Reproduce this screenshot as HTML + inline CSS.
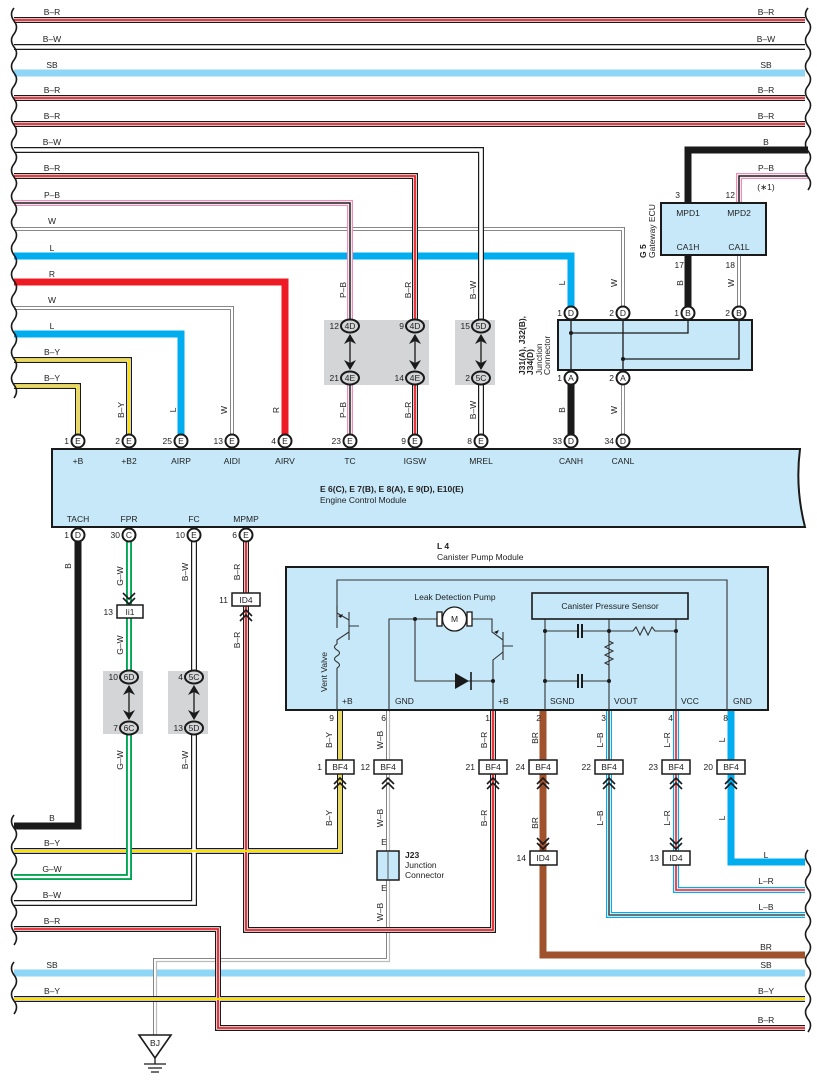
<!DOCTYPE html>
<html><head><meta charset="utf-8"><style>
html,body{margin:0;padding:0;background:#fff}
svg{display:block}
text{font-family:"Liberation Sans",sans-serif;font-size:8.5px;fill:#222}
.b{font-weight:bold}
</style></head><body>
<svg width="817" height="1087" viewBox="0 0 817 1087" xmlns="http://www.w3.org/2000/svg">
<defs>
<path id="w1" d="M14,20H805"/>
<path id="w2" d="M14,47H805"/>
<path id="w3" d="M14,73H805"/>
<path id="w4" d="M14,98H805"/>
<path id="w5" d="M14,124H805"/>
<path id="w6" d="M14,150H481V441"/>
<path id="w7" d="M14,176H415V441"/>
<path id="w8" d="M14,203H350V441"/>
<path id="w9" d="M14,229H623V441"/>
<path id="w10" d="M14,256H571V313"/>
<path id="w11" d="M14,282H285V441"/>
<path id="w12" d="M14,308H232V441"/>
<path id="w13" d="M14,334H181V441"/>
<path id="w14" d="M14,360H129V441"/>
<path id="w15" d="M14,386H78V441"/>
<path id="w16" d="M571,378V441"/>
<path id="w18" d="M808,150H688V313"/>
<path id="w19" d="M808,176H739V203"/>
<path id="w20" d="M739,255V313"/>
<path id="b1" d="M78,535V826H14"/>
<path id="b2" d="M129,535V877H14"/>
<path id="b3" d="M194,535V903H14"/>
<path id="b4" d="M246,535V930H493V710"/>
<path id="b5" d="M14,929H218V1028H805"/>
<path id="b6" d="M14,851H340V710"/>
<path id="b7" d="M388,710V960H155V1035"/>
<path id="b8" d="M14,973H805"/>
<path id="b9" d="M14,999H805"/>
<path id="b10" d="M543,710V955H805"/>
<path id="b11" d="M609,710V915H805"/>
<path id="b12" d="M676,710V890H805"/>
<path id="b13" d="M731,710V862H805"/>
</defs>

<g fill="none" stroke-linejoin="miter">
<g stroke="#8fd6f6" stroke-width="7"><use href="#w3"/><use href="#b8"/></g>
<g stroke="#00aeef" stroke-width="7"><use href="#w10"/><use href="#w13"/><use href="#b13"/></g>
<use href="#w11" stroke="#ed1c24" stroke-width="7"/>
<g stroke="#1a1a1a" stroke-width="7"><use href="#w16"/><use href="#w18"/><use href="#b1"/></g>
<use href="#b10" stroke="#a0522d" stroke-width="7"/>
<g stroke="#777" stroke-width="4"><use href="#w9"/><use href="#w12"/><use href="#w20"/><use href="#b7"/><path d="M623,378V441"/></g>
<g stroke="#fff" stroke-width="2.2"><use href="#w9"/><use href="#w12"/><use href="#w20"/><use href="#b7"/><path d="M623,378V441"/></g>
<g stroke="#bbb" stroke-width="1.2"><use href="#b7" transform="translate(1.5,1.5)"/></g>
<g stroke="#1a1a1a" stroke-width="6"><use href="#w1"/><use href="#w2"/><use href="#w4"/><use href="#w5"/><use href="#w6"/><use href="#w7"/><use href="#w14"/><use href="#w15"/><use href="#b3"/><use href="#b4"/><use href="#b5"/><use href="#b6"/><use href="#b9"/></g>
<g stroke="#fff" stroke-width="3.6"><use href="#w1"/><use href="#w2"/><use href="#w4"/><use href="#w5"/><use href="#w6"/><use href="#w7"/><use href="#w14"/><use href="#w15"/><use href="#b3"/><use href="#b4"/><use href="#b5"/><use href="#b6"/><use href="#b9"/></g>
<g stroke="#ed1c24" stroke-width="1.8"><use href="#w1"/><use href="#w4"/><use href="#w5"/><use href="#w7"/><use href="#b4"/><use href="#b5"/></g>
<g stroke="#ffe000" stroke-width="2"><use href="#w14"/><use href="#w15"/><use href="#b6"/><use href="#b9"/></g>
<g stroke="#f08cb8" stroke-width="6"><use href="#w8"/><use href="#w19"/></g>
<g stroke="#fff" stroke-width="3.5"><use href="#w8"/><use href="#w19"/></g>
<g stroke="#1a1a1a" stroke-width="1.5"><use href="#w8"/><use href="#w19"/></g>
<use href="#b2" stroke="#00a651" stroke-width="6"/>
<use href="#b2" stroke="#fff" stroke-width="2.2"/>
<g stroke="#00aeef" stroke-width="6"><use href="#b11"/><use href="#b12"/></g>
<g stroke="#fff" stroke-width="3.6"><use href="#b11"/><use href="#b12"/></g>
<use href="#b11" stroke="#444" stroke-width="1.6"/>
<use href="#b12" stroke="#ed1c24" stroke-width="1.6"/>
</g>

<g fill="none" stroke="#1a1a1a" stroke-width="1.6">
<path d="M14,8 q-5,6 0,13 q5,6 0,13 q-5,6 0,13 q5,6 0,13 q-5,6 0,13 q5,6 0,13 q-5,6 0,13 q5,6 0,13 q-5,6 0,13 q5,6 0,13 q-5,6 0,13 q5,6 0,13 q-5,6 0,13 q5,6 0,13 q-5,6 0,13 q5,6 0,13 q-5,6 0,13 q5,6 0,13 q-5,6 0,13 q5,6 0,13 q-5,6 0,13 q5,6 0,13 q-5,6 0,13 q5,6 0,13 q-5,6 0,13 q5,6 0,13 q-5,6 0,13 q5,6 0,13 q-5,6 0,13 q5,6 0,13"/>
<path d="M808,8 q-5,6 0,13 q5,6 0,13 q-5,6 0,13 q5,6 0,13 q-5,6 0,13 q5,6 0,13 q-5,6 0,13 q5,6 0,13 q-5,6 0,13 q5,6 0,13"/>
<path d="M808,138 q-5,6 0,13 q5,6 0,13 q-5,6 0,13 q5,6 0,13"/>
<path d="M14,815 q-5,6 0,13 q5,6 0,13 q-5,6 0,13 q5,6 0,13 q-5,6 0,13 q5,6 0,13 q-5,6 0,13 q5,6 0,13 q-5,6 0,13 q5,6 0,13"/>
<path d="M14,962 q-5,6 0,13 q5,6 0,13 q-5,6 0,13 q5,6 0,13"/>
<path d="M808,850 q-5,6 0,13 q5,6 0,13 q-5,6 0,13 q5,6 0,13 q-5,6 0,13 q5,6 0,13 q-5,6 0,13 q5,6 0,13 q-5,6 0,13 q5,6 0,13 q-5,6 0,13 q5,6 0,13 q-5,6 0,13 q5,6 0,13"/>
</g>

<g text-anchor="middle">
<text x="52" y="15">B–R</text><text x="52" y="42">B–W</text><text x="52" y="68">SB</text>
<text x="52" y="93">B–R</text><text x="52" y="119">B–R</text><text x="52" y="145">B–W</text>
<text x="52" y="171">B–R</text><text x="52" y="198">P–B</text><text x="52" y="224">W</text>
<text x="52" y="251">L</text><text x="52" y="277">R</text><text x="52" y="303">W</text>
<text x="52" y="329">L</text><text x="52" y="355">B–Y</text><text x="52" y="381">B–Y</text>
<text x="766" y="15">B–R</text><text x="766" y="42">B–W</text><text x="766" y="68">SB</text>
<text x="766" y="93">B–R</text><text x="766" y="119">B–R</text>
<text x="766" y="145">B</text><text x="766" y="171">P–B</text><text x="766" y="190">(∗1)</text>
<text x="52" y="821">B</text><text x="52" y="846">B–Y</text><text x="52" y="872">G–W</text>
<text x="52" y="898">B–W</text><text x="52" y="924">B–R</text>
<text x="52" y="968">SB</text><text x="52" y="994">B–Y</text>
<text x="766" y="858">L</text><text x="766" y="884">L–R</text><text x="766" y="910">L–B</text>
<text x="766" y="950">BR</text><text x="766" y="968">SB</text><text x="766" y="994">B–Y</text><text x="766" y="1023">B–R</text>
</g>

<g text-anchor="middle">
<text transform="translate(346,290) rotate(-90)">P–B</text><text transform="translate(346,410) rotate(-90)">P–B</text>
<text transform="translate(411,290) rotate(-90)">B–R</text><text transform="translate(411,410) rotate(-90)">B–R</text>
<text transform="translate(476,290) rotate(-90)">B–W</text><text transform="translate(476,410) rotate(-90)">B–W</text>
<text transform="translate(565,283) rotate(-90)">L</text><text transform="translate(617,283) rotate(-90)">W</text>
<text transform="translate(683,283) rotate(-90)">B</text><text transform="translate(734,283) rotate(-90)">W</text>
<text transform="translate(565,410) rotate(-90)">B</text><text transform="translate(617,410) rotate(-90)">W</text>
<text transform="translate(124,410) rotate(-90)">B–Y</text><text transform="translate(176,410) rotate(-90)">L</text>
<text transform="translate(227,410) rotate(-90)">W</text><text transform="translate(279,410) rotate(-90)">R</text>
<text transform="translate(71,566) rotate(-90)">B</text>
<text transform="translate(123,576) rotate(-90)">G–W</text><text transform="translate(123,645) rotate(-90)">G–W</text>
<text transform="translate(123,760) rotate(-90)">G–W</text>
<text transform="translate(188,572) rotate(-90)">B–W</text><text transform="translate(188,760) rotate(-90)">B–W</text>
<text transform="translate(240,572) rotate(-90)">B–R</text><text transform="translate(240,640) rotate(-90)">B–R</text>
<text transform="translate(332,740) rotate(-90)">B–Y</text><text transform="translate(383,740) rotate(-90)">W–B</text>
<text transform="translate(487,740) rotate(-90)">B–R</text><text transform="translate(538,738) rotate(-90)">BR</text>
<text transform="translate(603,740) rotate(-90)">L–B</text><text transform="translate(670,740) rotate(-90)">L–R</text>
<text transform="translate(725,740) rotate(-90)">L</text>
<text transform="translate(332,818) rotate(-90)">B–Y</text><text transform="translate(383,818) rotate(-90)">W–B</text>
<text transform="translate(383,912) rotate(-90)">W–B</text>
<text transform="translate(487,818) rotate(-90)">B–R</text><text transform="translate(538,823) rotate(-90)">BR</text>
<text transform="translate(603,818) rotate(-90)">L–B</text><text transform="translate(670,818) rotate(-90)">L–R</text>
<text transform="translate(725,818) rotate(-90)">L</text>
<text x="384" y="845">E</text><text x="384" y="891">E</text>
</g>

<path d="M52,449H800Q795,488 805,527H52Z" fill="#c6e8f9" stroke="#1a1a1a" stroke-width="2"/>
<g text-anchor="middle">
<text x="78" y="464">+B</text><text x="129" y="464">+B2</text><text x="181" y="464">AIRP</text>
<text x="232" y="464">AIDI</text><text x="285" y="464">AIRV</text><text x="350" y="464">TC</text>
<text x="415" y="464">IGSW</text><text x="481" y="464">MREL</text><text x="571" y="464">CANH</text><text x="623" y="464">CANL</text>
<text x="78" y="522">TACH</text><text x="129" y="522">FPR</text><text x="194" y="522">FC</text><text x="246" y="522">MPMP</text>
</g>
<text x="320" y="492" class="b">E 6(C), E 7(B), E 8(A), E 9(D), E10(E)</text>
<text x="320" y="503">Engine Control Module</text>

<g fill="#d4d5d7"><rect x="324" y="320" width="105" height="65"/><rect x="455" y="320" width="40" height="65"/>
<rect x="103" y="671" width="40" height="63"/><rect x="168" y="671" width="40" height="63"/></g>
<g stroke="#1a1a1a" stroke-width="1.3" fill="#1a1a1a">
<path d="M350,335V369M415,335V369M481,335V369M129,686V719M194,686V719"/>
</g>
<g fill="#1a1a1a">
<path d="M344,344l6,-10l6,10l-6,-3z M344,360l6,10l6,-10l-6,3z"/>
<path d="M409,344l6,-10l6,10l-6,-3z M409,360l6,10l6,-10l-6,3z"/>
<path d="M475,344l6,-10l6,10l-6,-3z M475,360l6,10l6,-10l-6,3z"/>
<path d="M123,695l6,-10l6,10l-6,-3z M123,710l6,10l6,-10l-6,3z"/>
<path d="M188,695l6,-10l6,10l-6,-3z M188,710l6,10l6,-10l-6,3z"/>
</g>
<g fill="#d4d5d7" stroke="#1a1a1a" stroke-width="2">
<ellipse cx="350" cy="326" rx="9" ry="6.5"/><ellipse cx="350" cy="378" rx="9" ry="6.5"/>
<ellipse cx="415" cy="326" rx="9" ry="6.5"/><ellipse cx="415" cy="378" rx="9" ry="6.5"/>
<ellipse cx="481" cy="326" rx="9" ry="6.5"/><ellipse cx="481" cy="378" rx="9" ry="6.5"/>
<ellipse cx="129" cy="677" rx="9" ry="6.5"/><ellipse cx="129" cy="728" rx="9" ry="6.5"/>
<ellipse cx="194" cy="677" rx="9" ry="6.5"/><ellipse cx="194" cy="728" rx="9" ry="6.5"/>
</g>
<g text-anchor="middle" font-size="8">
<text x="350" y="329">4D</text><text x="350" y="381">4E</text><text x="415" y="329">4D</text><text x="415" y="381">4E</text>
<text x="481" y="329">5D</text><text x="481" y="381">5C</text><text x="129" y="680">6D</text><text x="129" y="731">6C</text>
<text x="194" y="680">5C</text><text x="194" y="731">5D</text>
</g>
<g text-anchor="end">
<text x="339" y="329">12</text><text x="339" y="381">21</text><text x="404" y="329">9</text><text x="404" y="381">14</text>
<text x="470" y="329">15</text><text x="470" y="381">2</text><text x="118" y="680">10</text><text x="118" y="731">7</text>
<text x="183" y="680">4</text><text x="183" y="731">13</text>
</g>

<rect x="558" y="320" width="194" height="50" fill="#c6e8f9" stroke="#1a1a1a" stroke-width="2"/>
<g stroke="#1a1a1a" stroke-width="1.3" fill="none"><path d="M571,313V378M623,313V378M571,333H688V313M623,359H739V313"/></g>
<circle cx="571" cy="333" r="2" fill="#1a1a1a"/><circle cx="623" cy="359" r="2" fill="#1a1a1a"/>
<text transform="translate(525,375) rotate(-90)" class="b">J31(A), J32(B),</text>
<text transform="translate(533,375) rotate(-90)" class="b">J34(D)</text>
<text transform="translate(542,375) rotate(-90)">Junction</text>
<text transform="translate(550,375) rotate(-90)">Connector</text>

<rect x="661" y="203" width="105" height="52" fill="#c6e8f9" stroke="#1a1a1a" stroke-width="2"/>
<g text-anchor="middle"><text x="688" y="216">MPD1</text><text x="739" y="216">MPD2</text>
<text x="688" y="250">CA1H</text><text x="739" y="250">CA1L</text></g>
<text x="680" y="198" text-anchor="end">3</text><text x="735" y="198" text-anchor="end">12</text>
<text x="684" y="268" text-anchor="end">17</text><text x="735" y="268" text-anchor="end">18</text>
<text transform="translate(646,258) rotate(-90)" class="b">G 5</text>
<text transform="translate(655,258) rotate(-90)">Gateway ECU</text>

<g fill="#fff" stroke="#1a1a1a" stroke-width="2">
<circle cx="78" cy="441" r="6.5"/><circle cx="129" cy="441" r="6.5"/><circle cx="181" cy="441" r="6.5"/>
<circle cx="232" cy="441" r="6.5"/><circle cx="285" cy="441" r="6.5"/><circle cx="350" cy="441" r="6.5"/>
<circle cx="415" cy="441" r="6.5"/><circle cx="481" cy="441" r="6.5"/><circle cx="571" cy="441" r="6.5"/>
<circle cx="623" cy="441" r="6.5"/>
<circle cx="78" cy="535" r="6.5"/><circle cx="129" cy="535" r="6.5"/><circle cx="194" cy="535" r="6.5"/><circle cx="246" cy="535" r="6.5"/>
<circle cx="571" cy="313" r="6.5"/><circle cx="623" cy="313" r="6.5"/><circle cx="688" cy="313" r="6.5"/><circle cx="739" cy="313" r="6.5"/>
<circle cx="571" cy="378" r="6.5"/><circle cx="623" cy="378" r="6.5"/>
</g>
<g text-anchor="middle" font-size="8">
<text x="78" y="444">E</text><text x="129" y="444">E</text><text x="181" y="444">E</text><text x="232" y="444">E</text>
<text x="285" y="444">E</text><text x="350" y="444">E</text><text x="415" y="444">E</text><text x="481" y="444">E</text>
<text x="571" y="444">D</text><text x="623" y="444">D</text>
<text x="78" y="538">D</text><text x="129" y="538">C</text><text x="194" y="538">E</text><text x="246" y="538">E</text>
<text x="571" y="316">D</text><text x="623" y="316">D</text><text x="688" y="316">B</text><text x="739" y="316">B</text>
<text x="571" y="381">A</text><text x="623" y="381">A</text>
</g>
<g text-anchor="end">
<text x="69" y="444">1</text><text x="120" y="444">2</text><text x="172" y="444">25</text><text x="223" y="444">13</text>
<text x="276" y="444">4</text><text x="341" y="444">23</text><text x="406" y="444">9</text><text x="472" y="444">8</text>
<text x="562" y="444">33</text><text x="614" y="444">34</text>
<text x="69" y="538">1</text><text x="120" y="538">30</text><text x="185" y="538">10</text><text x="237" y="538">6</text>
<text x="562" y="316">1</text><text x="614" y="316">2</text><text x="679" y="316">1</text><text x="730" y="316">2</text>
<text x="562" y="381">1</text><text x="614" y="381">2</text>
</g>

<rect x="117" y="605" width="26" height="13" fill="#fff" stroke="#1a1a1a" stroke-width="1.5"/>
<text x="130" y="615" text-anchor="middle">Ii1</text><text x="113" y="615" text-anchor="end">13</text>
<path d="M123,593l6,6l6,-6M123,598l6,6l6,-6" stroke="#1a1a1a" stroke-width="1.6" fill="none"/>
<rect x="232" y="593" width="28" height="13" fill="#fff" stroke="#1a1a1a" stroke-width="1.5"/>
<text x="246" y="603" text-anchor="middle">ID4</text><text x="228" y="603" text-anchor="end">11</text>
<path d="M240,616l6,-6l6,6M240,621l6,-6l6,6" stroke="#1a1a1a" stroke-width="1.6" fill="none"/>

<text x="437" y="549" class="b">L 4</text><text x="437" y="560">Canister Pump Module</text>
<rect x="286" y="567" width="482" height="143" fill="#c6e8f9" stroke="#1a1a1a" stroke-width="2"/>
<g stroke="#333" stroke-width="1.1" fill="none">
<path d="M337,710V668M337,628V580H727V710"/>
<path d="M337,668q5,-3 0,-6q-5,-3 0,-6q5,-3 0,-6q-5,-3 0,-6"/>
<path d="M337,644V640L349,632M349,620L337,613V606"/>
<path d="M349,612V640M349,626H359"/>
<path d="M389,710V619H437M472,619H492V632L503,640M503,652L493,660V710M503,632V660M503,646H513"/>
<path d="M415,619V681H493"/>
<path d="M545,619V710M609,619V710M676,619V710"/>
<path d="M545,631H577M583,631H609H633l3,-4l4,8l4,-8l4,8l4,-8l3,4H676"/>
<path d="M545,681H577M583,681H609"/>
<path d="M609,631V641l4,2l-8,4l8,4l-8,4l8,4l-8,4l4,2V681"/>
</g>
<g stroke="#1a1a1a" stroke-width="2"><path d="M578,624V638M582,624V638M578,674V688M582,674V688"/></g>
<path d="M338,616l5,-2l-2,4z" fill="#1a1a1a"/><path d="M494,632l5,-2l-2,4z" fill="#1a1a1a"/>
<path d="M455,673V689L469,681Z" fill="#1a1a1a"/><path d="M471,672V690" stroke="#1a1a1a" stroke-width="1.6"/>
<rect x="437" y="612" width="5" height="14" fill="#fff" stroke="#1a1a1a" stroke-width="1.3"/>
<rect x="467" y="612" width="5" height="14" fill="#fff" stroke="#1a1a1a" stroke-width="1.3"/>
<circle cx="454.5" cy="619" r="12" fill="#fff" stroke="#1a1a1a" stroke-width="1.3"/>
<text x="454.5" y="622" text-anchor="middle">M</text>
<g fill="#1a1a1a"><circle cx="415" cy="619" r="2"/><circle cx="493" cy="681" r="2"/>
<circle cx="545" cy="631" r="2"/><circle cx="609" cy="631" r="2"/><circle cx="676" cy="631" r="2"/>
<circle cx="545" cy="681" r="2"/><circle cx="609" cy="681" r="2"/></g>
<text x="455" y="600" text-anchor="middle">Leak Detection Pump</text>
<rect x="532" y="593" width="156" height="26" fill="#c6e8f9" stroke="#1a1a1a" stroke-width="1.6"/>
<text x="610" y="609" text-anchor="middle">Canister Pressure Sensor</text>
<text transform="translate(327,692) rotate(-90)">Vent Valve</text>
<text x="342" y="704">+B</text><text x="395" y="704">GND</text><text x="498" y="704">+B</text>
<text x="550" y="704">SGND</text><text x="614" y="704">VOUT</text><text x="681" y="704">VCC</text><text x="733" y="704">GND</text>
<g text-anchor="end"><text x="334" y="721">9</text><text x="386" y="721">6</text><text x="490" y="721">1</text>
<text x="541" y="721">2</text><text x="606" y="721">3</text><text x="673" y="721">4</text><text x="728" y="721">8</text></g>

<g fill="#fff" stroke="#1a1a1a" stroke-width="1.5">
<rect x="326" y="760" width="28" height="14"/><rect x="374" y="760" width="28" height="14"/><rect x="479" y="760" width="28" height="14"/>
<rect x="529" y="760" width="28" height="14"/><rect x="595" y="760" width="28" height="14"/><rect x="662" y="760" width="28" height="14"/><rect x="717" y="760" width="28" height="14"/>
</g>
<g text-anchor="middle"><text x="340" y="770">BF4</text><text x="388" y="770">BF4</text><text x="493" y="770">BF4</text>
<text x="543" y="770">BF4</text><text x="609" y="770">BF4</text><text x="676" y="770">BF4</text><text x="731" y="770">BF4</text></g>
<g text-anchor="end"><text x="322" y="770">1</text><text x="370" y="770">12</text><text x="475" y="770">21</text>
<text x="525" y="770">24</text><text x="591" y="770">22</text><text x="658" y="770">23</text><text x="713" y="770">20</text></g>
<g stroke="#1a1a1a" stroke-width="1.6" fill="none">
<path d="M334,784l6,-6l6,6M334,789l6,-6l6,6"/><path d="M382,784l6,-6l6,6M382,789l6,-6l6,6"/>
<path d="M487,784l6,-6l6,6M487,789l6,-6l6,6"/><path d="M537,784l6,-6l6,6M537,789l6,-6l6,6"/>
<path d="M603,784l6,-6l6,6M603,789l6,-6l6,6"/><path d="M670,784l6,-6l6,6M670,789l6,-6l6,6"/>
<path d="M725,784l6,-6l6,6M725,789l6,-6l6,6"/>
<path d="M537,838l6,6l6,-6M537,843l6,6l6,-6"/><path d="M670,838l6,6l6,-6M670,843l6,6l6,-6"/>
</g>
<rect x="530" y="851" width="27" height="14" fill="#fff" stroke="#1a1a1a" stroke-width="1.5"/>
<rect x="663" y="851" width="27" height="14" fill="#fff" stroke="#1a1a1a" stroke-width="1.5"/>
<text x="543" y="861" text-anchor="middle">ID4</text><text x="676" y="861" text-anchor="middle">ID4</text>
<text x="526" y="861" text-anchor="end">14</text><text x="659" y="861" text-anchor="end">13</text>

<rect x="377" y="851" width="22" height="29" fill="#c6e8f9" stroke="#1a1a1a" stroke-width="1.5"/>
<path d="M388,851V880" stroke="#555" stroke-width="1"/>
<text x="405" y="858" class="b">J23</text><text x="405" y="868">Junction</text><text x="405" y="878">Connector</text>

<path d="M139,1035H171L155,1058Z" fill="#fff" stroke="#1a1a1a" stroke-width="1.6"/>
<text x="155" y="1046" text-anchor="middle">BJ</text>
<path d="M155,1058V1064M144,1064H166M148,1068H162M151,1072H159" stroke="#1a1a1a" stroke-width="1.3"/>
</svg>
</body></html>
